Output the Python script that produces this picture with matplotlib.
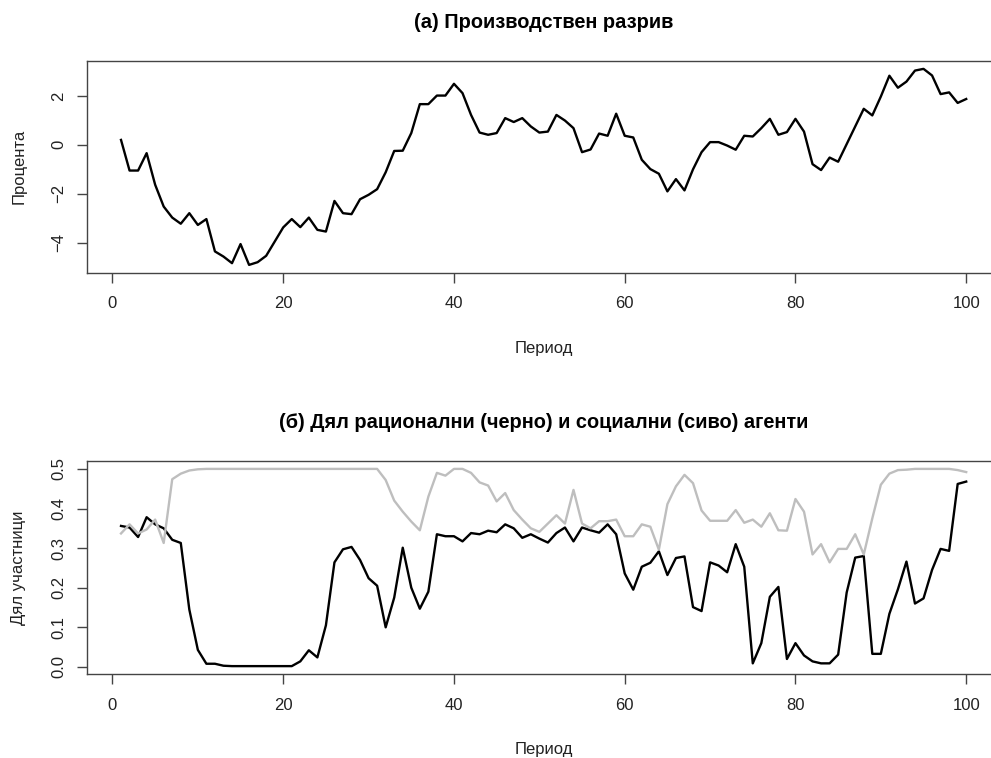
import matplotlib.pyplot as plt
import numpy as np

plt.rcParams['font.family'] = ['Liberation Sans', 'DejaVu Sans']

period = np.arange(1, 101)

# output gap, percent
output_gap = [0.2, -1.05, -1.05, -0.34, -1.63, -2.52, -2.97, -3.22, -2.79, -3.27,
              -3.03, -4.35, -4.56, -4.83, -4.05, -4.9, -4.79, -4.53, -3.95, -3.37,
              -3.03, -3.36, -2.97, -3.47, -3.54, -2.29, -2.79, -2.83, -2.22, -2.04,
              -1.81, -1.12, -0.25, -0.24, 0.48, 1.66, 1.66, 2.01, 2.01, 2.49,
              2.11, 1.22, 0.5, 0.41, 0.48, 1.09, 0.93, 1.09, 0.75, 0.5,
              0.54, 1.22, 0.99, 0.68, -0.3, -0.19, 0.46, 0.37, 1.27, 0.37,
              0.3, -0.61, -0.99, -1.18, -1.9, -1.4, -1.86, -1.0, -0.3, 0.11,
              0.11, -0.03, -0.2, 0.37, 0.34, 0.68, 1.06, 0.41, 0.52, 1.06,
              0.54, -0.79, -1.03, -0.52, -0.69, 0.03, 0.75, 1.47, 1.2, 1.97,
              2.82, 2.33, 2.58, 3.03, 3.1, 2.83, 2.07, 2.14, 1.71, 1.87]

# share of rational agents (black)
rational = [0.356, 0.352, 0.328, 0.378, 0.36, 0.35, 0.321, 0.313, 0.145, 0.043,
            0.008, 0.008, 0.003, 0.002, 0.002, 0.002, 0.002, 0.002, 0.002, 0.002,
            0.002, 0.014, 0.042, 0.024, 0.105, 0.264, 0.297, 0.303, 0.27, 0.224,
            0.205, 0.1, 0.175, 0.301, 0.2, 0.147, 0.19, 0.335, 0.33, 0.33,
            0.317, 0.338, 0.335, 0.344, 0.34, 0.36, 0.35, 0.326, 0.335, 0.324,
            0.314, 0.338, 0.352, 0.317, 0.352, 0.345, 0.339, 0.36, 0.335, 0.236,
            0.195, 0.253, 0.263, 0.292, 0.232, 0.275, 0.279, 0.151, 0.141, 0.264,
            0.256, 0.239, 0.31, 0.253, 0.009, 0.06, 0.177, 0.202, 0.02, 0.06,
            0.029, 0.014, 0.009, 0.009, 0.031, 0.188, 0.276, 0.28, 0.033, 0.033,
            0.134, 0.196, 0.266, 0.16, 0.173, 0.245, 0.298, 0.293, 0.462, 0.468]

# share of social agents (grey)
social = [0.337, 0.36, 0.337, 0.347, 0.372, 0.313, 0.474, 0.488, 0.496, 0.499,
          0.5, 0.5, 0.5, 0.5, 0.5, 0.5, 0.5, 0.5, 0.5, 0.5,
          0.5, 0.5, 0.5, 0.5, 0.5, 0.5, 0.5, 0.5, 0.5, 0.5,
          0.5, 0.472, 0.42, 0.392, 0.367, 0.345, 0.43, 0.49, 0.483, 0.5,
          0.5, 0.49, 0.466, 0.458, 0.418, 0.439, 0.396, 0.372, 0.35, 0.341,
          0.362, 0.383, 0.362, 0.447, 0.362, 0.35, 0.368, 0.368, 0.372, 0.33,
          0.33, 0.36, 0.354, 0.296, 0.411, 0.456, 0.485, 0.464, 0.395, 0.369,
          0.369, 0.369, 0.396, 0.364, 0.372, 0.354, 0.388, 0.345, 0.344, 0.424,
          0.392, 0.284, 0.31, 0.264, 0.298, 0.298, 0.335, 0.284, 0.375, 0.46,
          0.488, 0.497, 0.498, 0.5, 0.5, 0.5, 0.5, 0.5, 0.497, 0.492]

x_ticks = [0, 20, 40, 60, 80, 100]
gap_ticks = [-4, -2, 0, 2]
share_ticks = [0.0, 0.1, 0.2, 0.3, 0.4, 0.5]
share_labels = ['0.0', '0.1', '0.2', '0.3', '0.4', '0.5']


def style_axes(ax):
    ax.margins(x=0.04, y=0.04)
    ax.set_xticks(x_ticks)
    for s in ax.spines.values():
        s.set_color('#444444')
        s.set_linewidth(1.0)
    ax.tick_params(axis='both', direction='out', length=7, width=1.0,
                   color='#444444', labelsize=12, labelcolor='#222222')
    ax.tick_params(axis='x', pad=10)
    ax.tick_params(axis='y', pad=8, labelrotation=90)
    for lab in ax.get_yticklabels():
        lab.set_va('center')


fig = plt.figure(figsize=(9.91, 7.58), dpi=100)

ax1 = fig.add_axes([0.088, 0.6402, 0.9211, 0.2793])
ax1.plot(period, output_gap, color='black', lw=1.7)
ax1.set_yticks(gap_ticks)
style_axes(ax1)
ax1.set_title('(a) Производствен разрив', fontsize=14.4, fontweight='bold', pad=24)
ax1.set_xlabel('Период', fontsize=12, labelpad=21, color='#222222')
ax1.set_ylabel('Процента', fontsize=12, labelpad=18, color='#222222')

ax2 = fig.add_axes([0.088, 0.1108, 0.9211, 0.281])
ax2.plot(period, rational, color='black', lw=1.7)
ax2.plot(period, social, color='#bebebe', lw=1.7)
ax2.set_yticks(share_ticks, share_labels)
style_axes(ax2)
ax2.set_title('(б) Дял рационални (черно) и социални (сиво) агенти', fontsize=14.4,
              fontweight='bold', pad=24)
ax2.set_xlabel('Период', fontsize=12, labelpad=21, color='#222222')
ax2.set_ylabel('Дял участници', fontsize=12, labelpad=18, color='#222222')

fig.savefig('out.png', dpi=100)
